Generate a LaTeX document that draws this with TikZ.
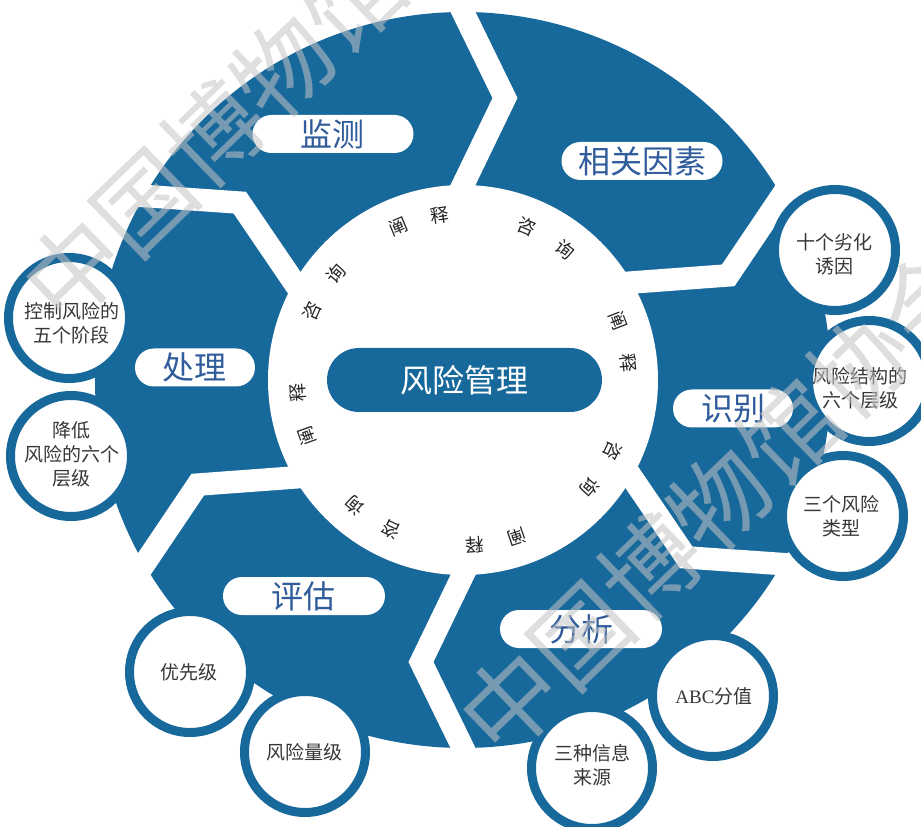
\documentclass[tikz,border=0pt]{standalone}
\usepackage{fontspec}
\setmainfont{Liberation Serif}
\newfontfamily\cjk{Noto Sans CJK SC}
\usetikzlibrary{calc}
\definecolor{rblue}{RGB}{24,105,155}
\definecolor{lblue}{RGB}{48,92,156}
\definecolor{tgray}{RGB}{55,55,55}
\definecolor{wmgray}{RGB}{196,196,196}
\begin{document}
\begin{tikzpicture}[x=1pt,y=1pt,
  pill/.style={fill=white, rounded corners=19pt, minimum height=38pt, inner sep=0pt, text=lblue, font=\cjk\fontsize{32}{32}\selectfont},
  bubble/.style={circle, draw=rblue, line width=9pt, fill=white, minimum size=121pt, inner sep=0pt},
  btext/.style={inner sep=0pt, text=tgray, align=center, font=\cjk\fontsize{19}{24}\selectfont},
  rim/.style={font=\cjk\fontsize{18.5}{18.5}\selectfont, text=black!85, inner sep=0pt},
  gapline/.style={white, line width=22.5pt, line join=miter},
  wm/.style={text=wmgray, text opacity=0.55, font=\cjk\fontsize{97}{97}\selectfont, rotate=44, inner sep=0pt}
]
\useasboundingbox (-463,-447) rectangle (458,380);
\clip (-463,-447) rectangle (458,380);

% blue ring
\fill[rblue] (0,0) circle (368);
\foreach \t in {90,30,-30,-90,-150,150} {
  \coordinate (I) at (\t:195);
  \coordinate (O) at (\t:368);
  \coordinate (M) at ($(\t:282)+(\t-90:42)$);
  \draw[gapline] ($(M)!1.4!(I)$) -- (M) -- ($(M)!1.4!(O)$);
}
\fill[white] (0,0) circle (195);

% centre
\node[fill=rblue, rounded corners=32pt, minimum width=275pt, minimum height=64pt, inner sep=0pt,
      text=white, font=\cjk\fontsize{32}{32}\selectfont] (core) at (1.5,0) {风险管理};

% rim characters
\foreach \a/\c [count=\i] in {199.6/阐,184.4/释,155.4/咨,140.1/询,112.75/阐,98.0/释,67.3/咨,52.0/询,20.9/阐,6.0/释,-25.2/咨,-40.1/询,-71.1/阐,-85.9/释,-115.8/咨,-130.7/询} {
  \node[rim, rotate=\a-90] (rim\i) at (\a:166) {\c};
}

% segment labels
\node[pill, minimum width=161pt] (jc) at (-130,246) {监测};
\node[pill, minimum width=161pt] (xg) at (179,219) {相关因素};
\node[pill, minimum width=120pt] (sb) at (270,-28.5) {识别};
\node[pill, minimum width=162pt] (fx) at (118,-249) {分析};
\node[pill, minimum width=162pt] (pg) at (-159,-216) {评估};
\node[pill, minimum width=120pt] (cl) at (-268,12.5) {处理};

% bubbles
\node[bubble] (b1) at (372,130) {};
\node[btext] (t1) at (371,126) {十个劣化\\诱因};
\node[bubble] (b2) at (406,-1) {};
\node[btext] (t2) at (397,-8) {风险结构的\\六个层级};
\node[bubble] (b3) at (380,-136) {};
\node[btext] (t3) at (378,-136) {三个风险\\类型};
\node[bubble] (b4) at (250,-316) {};
\node[btext] (t4) at (251,-316) {{\rmfamily ABC}分值};
\node[bubble] (b5) at (129,-388) {};
\node[btext] (t5) at (129,-385) {三种信息\\来源};
\node[bubble] (b6) at (-158,-372) {};
\node[btext] (t6) at (-158,-372) {风险量级};
\node[bubble] (b7) at (-273,-292) {};
\node[btext] (t7) at (-274,-292) {优先级};
\node[bubble] (b8) at (-392,-76) {};
\node[btext] (t8) at (-391,-74) {降低\\风险的六个\\层级};
\node[bubble] (b9) at (-394,62) {};
\node[btext] (t9) at (-391,57) {控制风险的\\五个阶段};

% watermark
\node[wm] (wm1) at (-180,313) {中国博物馆协会};
\node[wm] (wm2) at (257,-120) {中国博物馆协会};
\end{tikzpicture}
\end{document}
